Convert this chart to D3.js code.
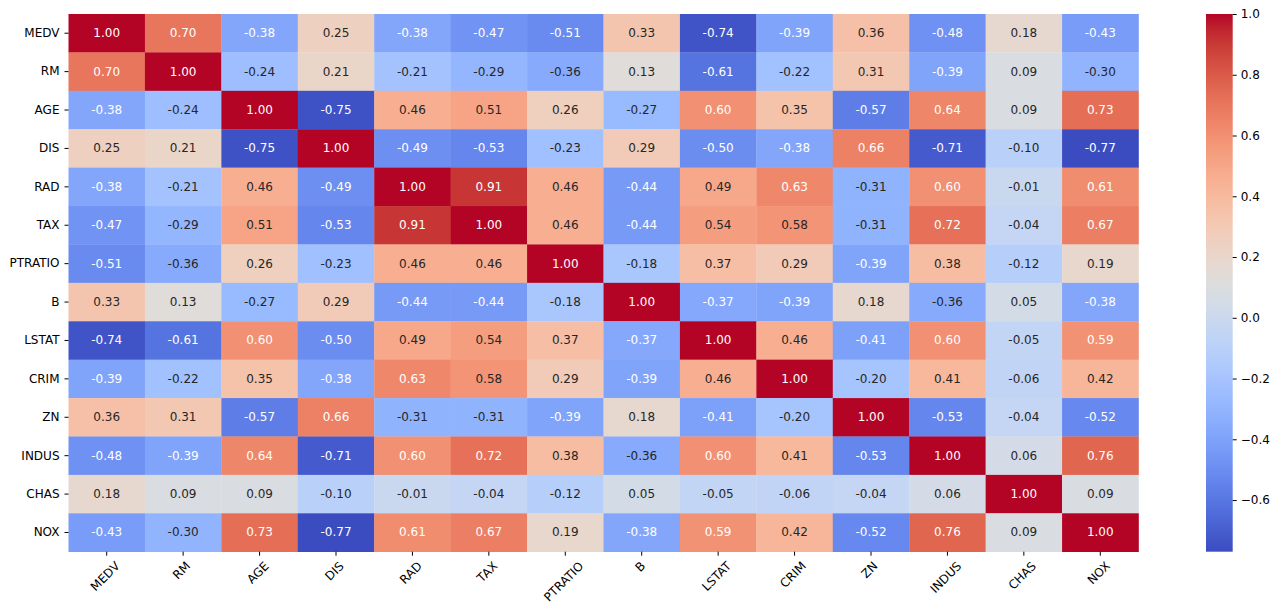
<!DOCTYPE html>
<meta charset="utf-8">
<script src="https://d3js.org/d3.v7.min.js"></script>
<style>
  body { margin: 0; background: #fff; }
  text { font-family: "DejaVu Sans", sans-serif; }
</style>
<div id="heatmap"></div>
<script>

// column / row names (same order on both axes)
var labels = ["MEDV", "RM", "AGE", "DIS", "RAD", "TAX", "PTRATIO", "B", "LSTAT", "CRIM", "ZN", "INDUS", "CHAS", "NOX"];

// correlation values, one row per label
var corr = [
  [ 1.00,  0.70, -0.38,  0.25, -0.38, -0.47, -0.51,  0.33, -0.74, -0.39,  0.36, -0.48,  0.18, -0.43],
  [ 0.70,  1.00, -0.24,  0.21, -0.21, -0.29, -0.36,  0.13, -0.61, -0.22,  0.31, -0.39,  0.09, -0.30],
  [-0.38, -0.24,  1.00, -0.75,  0.46,  0.51,  0.26, -0.27,  0.60,  0.35, -0.57,  0.64,  0.09,  0.73],
  [ 0.25,  0.21, -0.75,  1.00, -0.49, -0.53, -0.23,  0.29, -0.50, -0.38,  0.66, -0.71, -0.10, -0.77],
  [-0.38, -0.21,  0.46, -0.49,  1.00,  0.91,  0.46, -0.44,  0.49,  0.63, -0.31,  0.60, -0.01,  0.61],
  [-0.47, -0.29,  0.51, -0.53,  0.91,  1.00,  0.46, -0.44,  0.54,  0.58, -0.31,  0.72, -0.04,  0.67],
  [-0.51, -0.36,  0.26, -0.23,  0.46,  0.46,  1.00, -0.18,  0.37,  0.29, -0.39,  0.38, -0.12,  0.19],
  [ 0.33,  0.13, -0.27,  0.29, -0.44, -0.44, -0.18,  1.00, -0.37, -0.39,  0.18, -0.36,  0.05, -0.38],
  [-0.74, -0.61,  0.60, -0.50,  0.49,  0.54,  0.37, -0.37,  1.00,  0.46, -0.41,  0.60, -0.05,  0.59],
  [-0.39, -0.22,  0.35, -0.38,  0.63,  0.58,  0.29, -0.39,  0.46,  1.00, -0.20,  0.41, -0.06,  0.42],
  [ 0.36,  0.31, -0.57,  0.66, -0.31, -0.31, -0.39,  0.18, -0.41, -0.20,  1.00, -0.53, -0.04, -0.52],
  [-0.48, -0.39,  0.64, -0.71,  0.60,  0.72,  0.38, -0.36,  0.60,  0.41, -0.53,  1.00,  0.06,  0.76],
  [ 0.18,  0.09,  0.09, -0.10, -0.01, -0.04, -0.12,  0.05, -0.05, -0.06, -0.04,  0.06,  1.00,  0.09],
  [-0.43, -0.30,  0.73, -0.77,  0.61,  0.67,  0.19, -0.38,  0.59,  0.42, -0.52,  0.76,  0.09,  1.00]
];

// colorbar tick values
var cbarTicks = [-0.6, -0.4, -0.2, 0.0, 0.2, 0.4, 0.6, 0.8, 1.0];

var W = 1280, H = 614;
var plot = {left: 68.5, top: 14, right: 1138.5, bottom: 551.7};
var cbar = {left: 1206, right: 1232.7};
var fontSize = 12;

var svg = d3.select("#heatmap").append("svg")
  .attr("width", W).attr("height", H);

// matplotlib "coolwarm" (Moreland diverging map, 33 samples)
var coolwarmData = [
  [0.2298057, 0.298717966, 0.753683153], [0.26623388, 0.353094838, 0.801466763],
  [0.30386891, 0.406535296, 0.84495867], [0.342804478, 0.458757618, 0.883725899],
  [0.38301334, 0.50941904, 0.917387822], [0.424369608, 0.558148092, 0.945619588],
  [0.46666708, 0.604562568, 0.968154911], [0.509635204, 0.648280772, 0.98478814],
  [0.552953156, 0.688929332, 0.995375608], [0.596262162, 0.726149107, 0.999836203],
  [0.639176211, 0.759599947, 0.998151185], [0.681291281, 0.788964712, 0.990363227],
  [0.722193294, 0.813952739, 0.976574709], [0.761464949, 0.834302879, 0.956945269],
  [0.798691636, 0.849786142, 0.931688648], [0.833466556, 0.860207984, 0.901068838],
  [0.865395197, 0.86541021, 0.865395561], [0.897787179, 0.848937047, 0.820880546],
  [0.924127593, 0.827384882, 0.774508472], [0.944468518, 0.800927443, 0.726736146],
  [0.958852946, 0.769767752, 0.678007945], [0.96732803, 0.734132809, 0.628751763],
  [0.969954137, 0.694266682, 0.579375448], [0.966811177, 0.650421156, 0.530263762],
  [0.958003065, 0.602842431, 0.481775914], [0.943660866, 0.551750968, 0.434243684],
  [0.923944917, 0.49730856, 0.387970225], [0.89904617, 0.439559467, 0.343229596],
  [0.869186849, 0.378313092, 0.300267182], [0.834620542, 0.312874446, 0.259301199],
  [0.795631745, 0.24128379, 0.220525627], [0.752534934, 0.157246067, 0.184115123],
  [0.705673158, 0.01555616, 0.150232812]
];
var coolwarm = d3.piecewise(d3.interpolateRgb, coolwarmData.map(function(c) {
  return d3.rgb(c[0] * 255, c[1] * 255, c[2] * 255);
}));

var vmin = d3.min(corr, function(r) { return d3.min(r); });
var vmax = d3.max(corr, function(r) { return d3.max(r); });

var color = d3.scaleSequential(coolwarm).domain([vmin, vmax]);

var x = d3.scaleBand().domain(labels).range([plot.left, plot.right]);
var y = d3.scaleBand().domain(labels).range([plot.top, plot.bottom]);

// luminance rule used by seaborn to pick annotation colour
function luminance(c) {
  var rgb = d3.rgb(c);
  var lin = [rgb.r, rgb.g, rgb.b].map(function(v) {
    v = v / 255;
    return v <= 0.03928 ? v / 12.92 : Math.pow((v + 0.055) / 1.055, 2.4);
  });
  return 0.2126 * lin[0] + 0.7152 * lin[1] + 0.0722 * lin[2];
}

var cells = [];
corr.forEach(function(row, i) {
  row.forEach(function(v, j) {
    cells.push({row: labels[i], col: labels[j], value: v});
  });
});

// cells
svg.append("g").selectAll("rect")
  .data(cells)
  .enter()
  .append("rect")
  .attr("x", function(d) { return x(d.col); })
  .attr("y", function(d) { return y(d.row); })
  .attr("width", x.bandwidth() + 0.3)
  .attr("height", y.bandwidth() + 0.3)
  .style("fill", function(d) { return color(d.value); });

// annotations
svg.append("g").selectAll("text")
  .data(cells)
  .enter()
  .append("text")
  .attr("x", function(d) { return x(d.col) + x.bandwidth() / 2; })
  .attr("y", function(d) { return y(d.row) + y.bandwidth() / 2; })
  .attr("text-anchor", "middle")
  .attr("dominant-baseline", "central")
  .style("font-size", fontSize + "px")
  .style("fill", function(d) { return luminance(color(d.value)) > 0.408 ? "#262626" : "#ffffff"; })
  .text(function(d) { return d.value.toFixed(2); });

// y axis
var yAxis = svg.append("g")
  .attr("transform", "translate(" + plot.left + ",0)")
  .call(d3.axisLeft(y).tickSize(4).tickPadding(5));
yAxis.select(".domain").remove();
yAxis.selectAll("text").style("font-size", fontSize + "px").style("fill", "#000")
  .style("font-family", "DejaVu Sans");

// x axis, labels rotated 45 degrees with their box centred on the tick
var xAxis = svg.append("g")
  .attr("transform", "translate(0," + plot.bottom + ")")
  .call(d3.axisBottom(x).tickSize(4).tickPadding(4));
xAxis.select(".domain").remove();
xAxis.selectAll("text")
  .style("font-size", fontSize + "px").style("fill", "#000")
  .style("font-family", "DejaVu Sans")
  .attr("text-anchor", "middle")
  .attr("dy", null)
  .attr("dominant-baseline", "central")
  .each(function() {
    var w = this.getComputedTextLength();
    var half = (w + fontSize) * Math.SQRT1_2 / 2;
    var cy = 8 + half;
    d3.select(this).attr("y", cy).attr("x", -1.5)
      .attr("transform", "rotate(-45,-1.5," + cy + ")");
  });

// colorbar
var defs = svg.append("defs");
var grad = defs.append("linearGradient")
  .attr("id", "cbar-grad")
  .attr("x1", 0).attr("y1", 1).attr("x2", 0).attr("y2", 0);
d3.range(0, 1.0001, 0.02).forEach(function(t) {
  grad.append("stop")
    .attr("offset", t)
    .attr("stop-color", coolwarm(t));
});

svg.append("rect")
  .attr("x", cbar.left)
  .attr("y", plot.top)
  .attr("width", cbar.right - cbar.left)
  .attr("height", plot.bottom - plot.top)
  .style("fill", "url(#cbar-grad)");

var cy = d3.scaleLinear().domain([vmin, vmax]).range([plot.bottom, plot.top]);
var cAxis = svg.append("g")
  .attr("transform", "translate(" + cbar.right + ",0)")
  .call(d3.axisRight(cy).tickValues(cbarTicks).tickFormat(d3.format(".1f")).tickSize(4).tickPadding(4));
cAxis.select(".domain").remove();
cAxis.selectAll("text").style("font-size", fontSize + "px").style("fill", "#000")
  .style("font-family", "DejaVu Sans");

</script>
